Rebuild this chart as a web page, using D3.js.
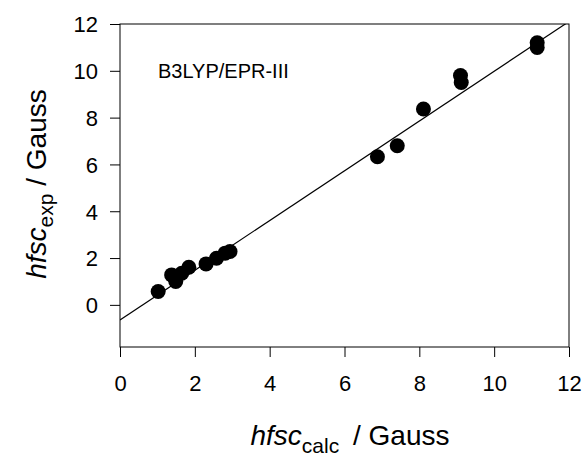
<!DOCTYPE html>
<html><head><meta charset="utf-8">
<script src="https://cdn.jsdelivr.net/npm/d3@7"></script>
<style>body{margin:0;background:#fff}text{font-family:Arial,"Liberation Sans",sans-serif;fill:#000}</style>
</head><body>
<svg id="c" width="586" height="456"></svg>
<script>
const xCalc = [1.02, 1.38, 1.49, 1.65, 1.84, 2.30, 2.58, 2.81, 2.94, 6.88, 7.41, 8.11, 9.10, 9.12, 11.15, 11.15];
const yExp  = [0.57, 1.28, 1.00, 1.35, 1.61, 1.75, 1.99, 2.21, 2.28, 6.33, 6.80, 8.37, 9.80, 9.50, 11.20, 11.00];
const xTicks = [0, 2, 4, 6, 8, 10, 12];
const yTicks = [0, 2, 4, 6, 8, 10, 12];
const fitIntercept = -0.65;
const fitSlope = 1.063;
const label = "B3LYP/EPR-III";

const svg = d3.select("#c");
const L = 120, R = 569, T = 24, B = 347;
const x = d3.scaleLinear().domain([0, 12]).range([L, R]);
const y = d3.scaleLinear().domain([-1.8, 12]).range([B, T]);

svg.append("defs").append("clipPath").attr("id", "clip")
  .append("rect").attr("x", L).attr("y", T).attr("width", R - L).attr("height", B - T);

// frame
svg.append("rect").attr("x", L).attr("y", T).attr("width", R - L).attr("height", B - T)
  .attr("fill", "none").attr("stroke", "#000").attr("stroke-width", 1);

const xAxis = svg.append("g").attr("transform", `translate(0,${B})`)
  .call(d3.axisBottom(x).tickValues(xTicks).tickSize(10).tickPadding(20).tickFormat(d3.format("d")));
const yAxis = svg.append("g").attr("transform", `translate(${L},0)`)
  .call(d3.axisLeft(y).tickValues(yTicks).tickSize(10).tickPadding(12).tickFormat(d3.format("d")));
[xAxis, yAxis].forEach(a => {
  a.select(".domain").remove();
  a.selectAll("line").attr("stroke", "#000");
  a.selectAll("text").style("font-size", "22px").attr("fill", "#000")
    .style("font-family", "Arial, 'Liberation Sans', sans-serif");
});
xAxis.selectAll("text").attr("dy", null).attr("y", 44);
yAxis.selectAll("text").attr("dy", "0.36em");

// regression line
const x0 = 0, x1 = 12;
svg.append("line").attr("clip-path", "url(#clip)")
  .attr("x1", x(x0)).attr("y1", y(fitIntercept + fitSlope * x0))
  .attr("x2", x(x1)).attr("y2", y(fitIntercept + fitSlope * x1))
  .attr("stroke", "#000").attr("stroke-width", 1.2);

// points
svg.append("g").selectAll("circle").data(xCalc).join("circle")
  .attr("cx", d => x(d)).attr("cy", (d, i) => y(yExp[i])).attr("r", 7.5).attr("fill", "#000");

// label
svg.append("text").attr("x", 158).attr("y", 78).style("font-size", "20px").text(label);

// x title
const xt = svg.append("text").attr("x", 350).attr("y", 445).attr("text-anchor", "middle").style("font-size", "28px");
xt.append("tspan").style("font-style", "italic").text("hfsc");
xt.append("tspan").attr("dy", 8).style("font-size", "21px").text("calc");
xt.append("tspan").attr("dy", -8).attr("dx", 6).text(" / Gauss");

// y title
const yt = svg.append("text").attr("transform", "translate(46,184) rotate(-90)").attr("text-anchor", "middle").style("font-size", "28px");
yt.append("tspan").style("font-style", "italic").text("hfsc");
yt.append("tspan").attr("dy", 7).style("font-size", "21px").text("exp");
yt.append("tspan").attr("dy", -7).text(" / Gauss");
</script>
</body></html>
